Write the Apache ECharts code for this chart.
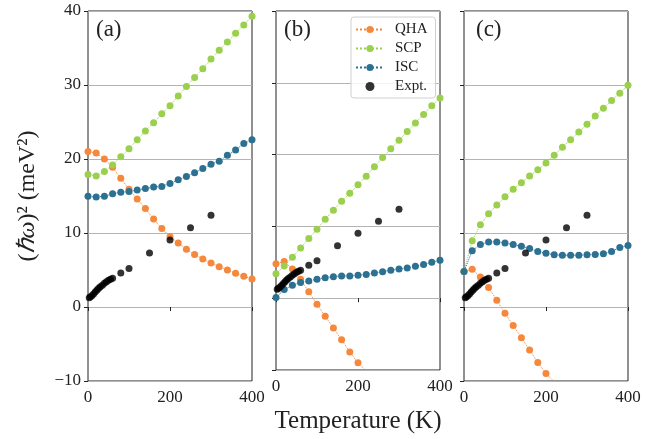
<!DOCTYPE html>
<html>
<head>
<meta charset="utf-8">
<script src="https://cdn.jsdelivr.net/npm/echarts@6/dist/echarts.min.js"></script>
<style>html,body{margin:0;padding:0;background:#fff}#c{width:668px;height:439px}</style>
</head>
<body>
<div id="c"></div>
<script>
const temps = [0,20,40,60,80,100,120,140,160,180,200,220,240,260,280,300,320,340,360,380,400];
const qhaA = [21.0,20.8,20.0,18.9,17.4,15.9,14.6,13.3,11.9,10.6,9.5,8.65,7.8,7.1,6.5,5.95,5.45,5.0,4.55,4.15,3.8];
const scpA = [17.9,17.7,18.3,19.2,20.3,21.4,22.6,23.8,24.9,26.1,27.2,28.5,29.8,31.0,32.2,33.5,34.7,35.8,37.0,38.1,39.3];
const iscA = [14.95,14.86,14.95,15.3,15.5,15.6,15.8,16.0,16.2,16.3,16.7,17.2,17.65,18.15,18.7,19.3,19.7,20.5,21.2,22.1,22.6];
const qhaBC = [4.8,5.1,4.05,2.65,0.9,-0.86,-2.5,-4.15,-5.8,-7.5,-9.0,-10.1];
const scpB = [3.4,4.5,5.7,7.0,8.3,9.6,11.0,12.25,13.5,14.6,15.8,17.0,18.3,19.6,20.8,22.0,23.2,24.4,25.6,26.8,27.9];
const iscB = [0.1,1.2,1.8,2.2,2.4,2.65,2.85,3.0,3.1,3.1,3.2,3.3,3.5,3.7,3.9,4.05,4.2,4.45,4.7,5.0,5.3];
const scpC = [4.8,8.96,11.1,12.6,13.8,14.9,15.9,16.8,17.7,18.55,19.45,20.5,21.6,22.6,23.65,24.7,25.8,26.85,27.9,28.9,29.95];
const iscC = [4.8,7.6,8.45,8.8,8.8,8.65,8.45,8.2,7.9,7.5,7.25,7.05,7.0,7.0,7.0,7.05,7.1,7.2,7.5,8.05,8.3];
const exptT = [3,6,10,14,18,22,26,30,35,40,45,50,55,60,80,100,150,200,250,300];
const exptY = [1.25,1.4,1.55,1.8,2.05,2.3,2.55,2.75,2.95,3.2,3.4,3.6,3.75,3.9,4.6,5.2,7.3,9.05,10.7,12.4];
const xTicks = [0,200,400];
const yTicks = [-10,0,10,20,30,40];
const panelLabels = ['(a)','(b)','(c)'];

const colors = {QHA:'#F5883C', SCP:'#9BD04E', ISC:'#2C7192', Expt:'#000000'};
const serif = 'Liberation Serif';
const zip = (xs, ys) => ys.map((y,i)=>[xs[i], y]);

const gridLefts = [88, 276, 464];
const grids = gridLefts.map(l => ({left:l, width:164, top:11, height:370, show:true, borderColor:'#222', borderWidth:1, backgroundColor:'transparent'}));

const xAxes = grids.map((g,i)=>({
  type:'value', gridIndex:i, min:xTicks[0], max:xTicks[xTicks.length-1], interval:xTicks[1]-xTicks[0],
  axisLine:{show:false}, splitLine:{show:false},
  axisTick:{show:true, inside:false, length:4, lineStyle:{color:'#222'}},
  axisLabel:{show:true, margin:8, fontFamily:serif, fontSize:17, color:'#222'},
  name: i===1 ? 'Temperature (K)' : '', nameLocation:'middle', nameGap:39,
  nameTextStyle:{fontFamily:serif, fontSize:25, color:'#222'}
}));

const yAxes = grids.map((g,i)=>({
  type:'value', gridIndex:i, min:yTicks[0], max:yTicks[yTicks.length-1], interval:yTicks[1]-yTicks[0],
  axisLine:{show:false},
  splitLine:{show:true, lineStyle:{color:'#b4b4b4', width:1}},
  axisTick:{show:true, inside:false, length:4, lineStyle:{color:'#222'}},
  axisLabel:{show:i===0, margin:7, fontFamily:serif, fontSize:17, color:'#222',
    formatter: v => String(v).replace('-', '\u2212')},
  name: i===0 ? '({i|\u210F\u03C9})\u00B2 (meV\u00B2)' : '',
  nameLocation:'middle', nameGap:48, nameRotate:90,
  nameTextStyle:{fontFamily:serif, fontSize:24, color:'#222', rich:{i:{fontFamily:serif, fontSize:24, fontStyle:'italic', color:'#222'}}}
}));

function lineSeries(name, xi, data){
  return {name, type:'line', xAxisIndex:xi, yAxisIndex:xi, data, symbol:'circle', symbolSize:7,
    showSymbol:true, clip:true, animation:false,
    itemStyle:{color:colors[name]}, lineStyle:{color:colors[name], width:1, type:'dotted'}};
}
function exptSeries(xi){
  return {name:'Expt', type:'scatter', xAxisIndex:xi, yAxisIndex:xi, data:zip(exptT, exptY),
    symbol:'circle', symbolSize:7, animation:false, itemStyle:{color:'#000'}, z:5};
}

const series = [
  lineSeries('QHA',0,zip(temps,qhaA)), lineSeries('SCP',0,zip(temps,scpA)), lineSeries('ISC',0,zip(temps,iscA)), exptSeries(0),
  lineSeries('QHA',1,zip(temps,qhaBC)), lineSeries('SCP',1,zip(temps,scpB)), lineSeries('ISC',1,zip(temps,iscB)), exptSeries(1),
  lineSeries('QHA',2,zip(temps,qhaBC)), lineSeries('SCP',2,zip(temps,scpC)), lineSeries('ISC',2,zip(temps,iscC)), exptSeries(2)
];

const chart = echarts.init(document.getElementById('c'), null, {renderer:'canvas'});
chart.setOption({
  animation:false,
  backgroundColor:'#fff',
  grid: grids, xAxis: xAxes, yAxis: yAxes, series,
  legend:{
    data:[{name:'QHA'},{name:'SCP'},{name:'ISC'},{name:'Expt', icon:'circle', itemStyle:{color:'#000'}}],
    formatter: n => n==='Expt' ? 'Expt.' : n,
    orient:'vertical', left:351, top:17, itemWidth:28, itemHeight:9, itemGap:4,
    padding:[5,8,4,4], backgroundColor:'rgba(255,255,255,0.85)', borderColor:'#d0d0d0', borderWidth:1, borderRadius:3,
    textStyle:{fontFamily:serif, fontSize:15, lineHeight:15, color:'#222', padding:[0,0,0,6]},
    selectedMode:false
  },
  graphic: panelLabels.map((t,i)=>({type:'text', left:gridLefts[i]+ (i===2?12:8), top:18,
    style:{text:t, font:'23px "Liberation Serif"', fill:'#222'}}))
});
</script>
</body>
</html>
